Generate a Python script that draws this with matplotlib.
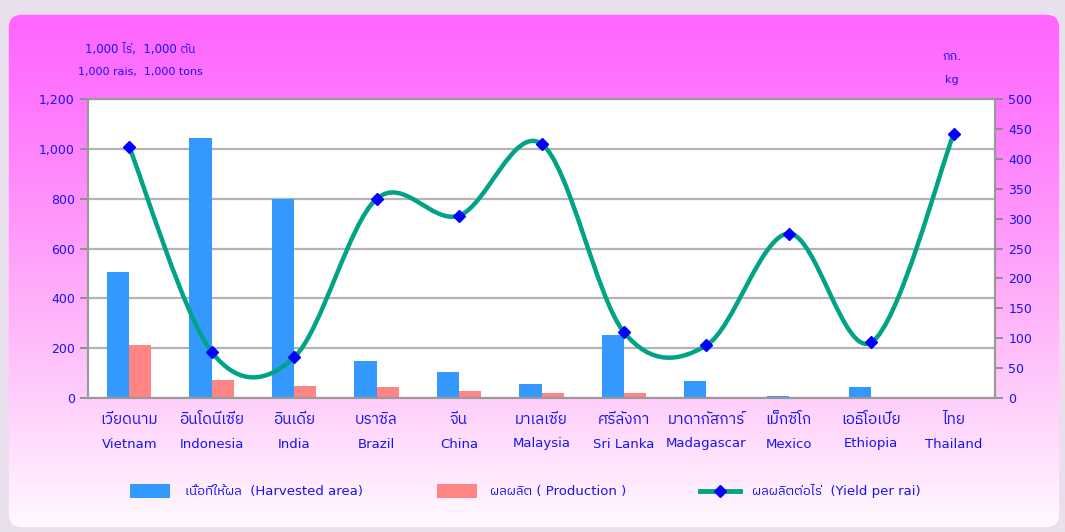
import numpy as np
import matplotlib
matplotlib.use("Agg")
import matplotlib.pyplot as plt
from matplotlib import font_manager, ft2font
from matplotlib.path import Path
from matplotlib.patches import PathPatch, FancyBboxPatch, Rectangle
from matplotlib.lines import Line2D
from matplotlib.ticker import FuncFormatter


def find_thai_font():
    # pick an installed family that actually has Thai glyphs
    names = []
    for f in font_manager.fontManager.ttflist:
        try:
            ft = ft2font.FT2Font(f.fname)
            if ft.get_char_index(0x0E01) and ft.get_char_index(0x0E40):
                names.append(f.name)
        except Exception:
            pass
    for n in names:
        if 'Thai' in n and 'Looped' not in n:
            return n
    return names[0] if names else None


thai = find_thai_font()
plt.rcParams['font.family'] = ['DejaVu Sans', thai] if thai else ['DejaVu Sans']

# data
countries_th = ['เวียดนาม', 'อินโดนีเซีย', 'อินเดีย', 'บราซิล', 'จีน', 'มาเลเซีย',
                'ศรีลังกา', 'มาดากัสการ์', 'เม็กซิโก', 'เอธิโอเปีย', 'ไทย']
countries_en = ['Vietnam', 'Indonesia', 'India', 'Brazil', 'China', 'Malaysia',
                'Sri Lanka', 'Madagascar', 'Mexico', 'Ethiopia', 'Thailand']
harvested_area = [505, 1045, 800, 150, 105, 57, 252, 68, 8, 44, 3]
production = [212, 72, 48, 44, 28, 20, 20, 4, 3, 3, 1]
yield_per_rai = [420, 77, 68, 333, 305, 425, 110, 88, 275, 93, 442]

TXT = '#1414f5'
BLUE = '#3399ff'
PINK = '#ff8585'
GREEN = '#00a383'

fig = plt.figure(figsize=(10.65, 5.32), dpi=100)
fig.patch.set_facecolor('#e8e0ec')

# background panel with vertical gradient
bg = fig.add_axes([0, 0, 1, 1], zorder=-10)
bg.set_xlim(0, 1065)
bg.set_ylim(532, 0)
bg.axis('off')
t = np.linspace(0, 1, 256)[:, None]
g = np.clip(t ** 1.2, 0, 1)
grad = np.dstack([np.ones_like(g),
                  0.40 + 0.58 * g,
                  np.ones_like(g) - 0.02 * np.sin(np.pi * g)])
panel = FancyBboxPatch((8, 14), 1052, 514, boxstyle='round,pad=0,rounding_size=14',
                       facecolor='none', edgecolor='#f4d8f4', lw=1.2)
bg.add_patch(panel)
im = bg.imshow(grad, extent=(8, 1060, 528, 14), aspect='auto', zorder=0)
im.set_clip_path(panel)

ax = fig.add_axes([88 / 1065, 134 / 532, 907 / 1065, 299 / 532])
ax.set_facecolor('white')
x = np.arange(len(countries_en))
w = 0.27
ax.bar(x - w / 2, harvested_area, w, color=BLUE, zorder=3)
ax.bar(x + w / 2, production, w, color=PINK, zorder=3)
ax.set_xlim(-0.5, len(x) - 0.5)
ax.set_ylim(0, 1200)
ax.set_yticks(np.arange(0, 1201, 200))
ax.yaxis.set_major_formatter(FuncFormatter(lambda v, p: f'{int(v):,}'))
ax.grid(axis='y', color='#b4b4b4', lw=1.6, zorder=1)
ax.set_xticks([])
for s in ax.spines.values():
    s.set_color('#9a9a9a')
    s.set_linewidth(1.5)
ax.tick_params(axis='y', colors='#8a8a8a', labelcolor=TXT, labelsize=9,
               length=6, width=1.3)

ax2 = ax.twinx()
ax2.set_ylim(0, 500)
ax2.set_yticks(np.arange(0, 501, 50))
ax2.tick_params(axis='y', colors='#8a8a8a', labelcolor=TXT, labelsize=9,
                length=6, width=1.3)
for s in ax2.spines.values():
    s.set_color('#9a9a9a')
    s.set_linewidth(1.5)

# smoothed yield line (Catmull-Rom style bezier through the points)
pts = np.column_stack([x, yield_per_rai]).astype(float)
ext = np.vstack([pts[0], pts, pts[-1]])
verts = [tuple(pts[0])]
codes = [Path.MOVETO]
for i in range(len(pts) - 1):
    p0, p1, p2, p3 = ext[i], ext[i + 1], ext[i + 2], ext[i + 3]
    c1 = p1 + (p2 - p0) / 6
    c2 = p2 - (p3 - p1) / 6
    verts += [tuple(c1), tuple(c2), tuple(p2)]
    codes += [Path.CURVE4] * 3
ax2.add_patch(PathPatch(Path(verts, codes), facecolor='none', edgecolor=GREEN,
                        lw=3.2, zorder=4, capstyle='round'))
ax2.plot(x, yield_per_rai, ls='none', marker='D', ms=6, color='#0000ff', zorder=5)

# category labels
for i in x:
    xf = (88 + (i + 0.5) * 907 / len(x)) / 1065
    fig.text(xf, 1 - 420 / 532, countries_th[i], ha='center', va='center',
             color=TXT, fontsize=11)
    fig.text(xf, 1 - 444 / 532, countries_en[i], ha='center', va='center',
             color=TXT, fontsize=9.5)

# unit labels
fig.text(140 / 1065, 1 - 49 / 532, '1,000 ไร่,  1,000 ตัน', ha='center', va='center',
         color=TXT, fontsize=8.5)
fig.text(140 / 1065, 1 - 72 / 532, '1,000 rais,  1,000 tons', ha='center', va='center',
         color=TXT, fontsize=8)
fig.text(952 / 1065, 1 - 57 / 532, 'กก.', ha='center', va='center', color=TXT, fontsize=9)
fig.text(952 / 1065, 1 - 80 / 532, 'kg', ha='center', va='center', color=TXT, fontsize=8)

# legend
ly = 491
bg.add_patch(Rectangle((130, ly - 7), 40, 14, facecolor=BLUE, edgecolor='none', zorder=2))
bg.text(185, ly, 'เนื้อที่ให้ผล  (Harvested area)', va='center', color=TXT, fontsize=9.5, zorder=2)
bg.add_patch(Rectangle((437, ly - 7), 40, 14, facecolor=PINK, edgecolor='none', zorder=2))
bg.text(490, ly, 'ผลผลิต ( Production )', va='center', color=TXT, fontsize=9.5, zorder=2)
bg.add_artist(Line2D([700, 740], [ly, ly], color=GREEN, lw=3.5, zorder=2))
bg.add_artist(Line2D([720], [ly], marker='D', ms=6, color='#0000ff', zorder=3))
bg.text(752, ly, 'ผลผลิตต่อไร่  (Yield per rai)', va='center', color=TXT, fontsize=9.5, zorder=2)

fig.savefig('out.png', dpi=100, facecolor=fig.get_facecolor())
